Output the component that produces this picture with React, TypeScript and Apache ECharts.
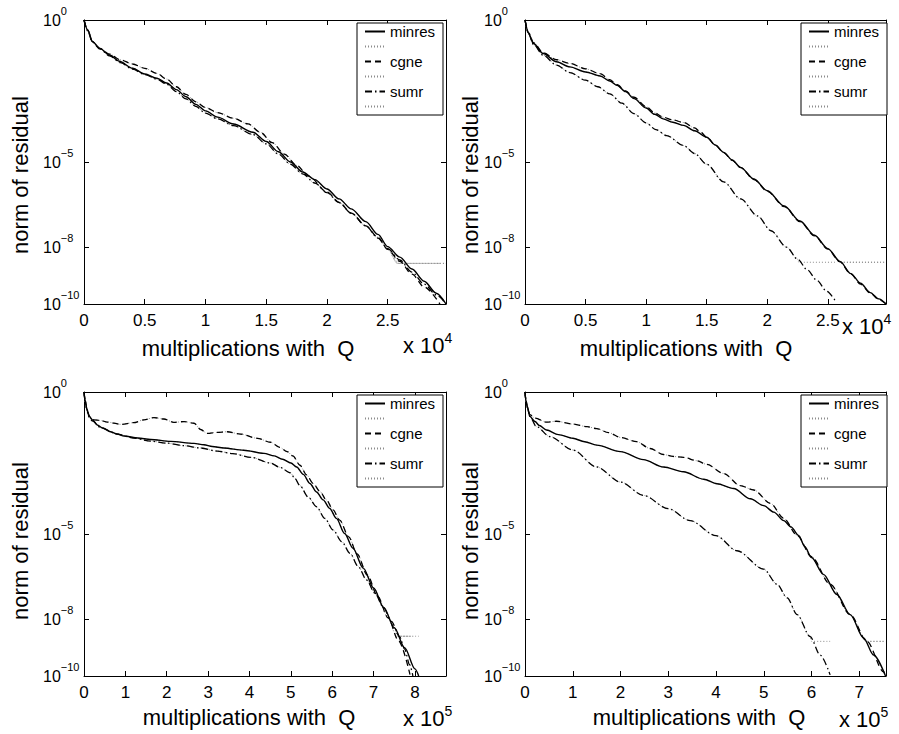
import React, { useEffect, useRef } from 'react';
import * as echarts from 'echarts';

const FONT = '"Liberation Sans", Arial, Helvetica, sans-serif';

// Curves: [multiplications (axis units), log10(norm of residual)]
// Panel 1 (x in units of 10^4)
const p1Minres: number[][] = [[0,0],[0.03,-0.35],[0.07,-0.76],[0.13,-1.0],[0.21,-1.23],[0.29,-1.45],[0.4,-1.7],[0.5,-1.9],[0.6,-2.05],[0.68,-2.22],[0.76,-2.45],[0.84,-2.7],[0.92,-2.97],[1.0,-3.2],[1.1,-3.42],[1.23,-3.66],[1.39,-3.95],[1.5,-4.28],[1.6,-4.64],[1.7,-5.0],[1.8,-5.35],[1.9,-5.62],[2.0,-5.95],[2.1,-6.3],[2.2,-6.65],[2.32,-7.1],[2.42,-7.55],[2.5,-7.98],[2.6,-8.35],[2.7,-8.77],[2.8,-9.2],[2.9,-9.62],[2.98,-10]];
const p1Cgne: number[][] = [[0,0],[0.03,-0.35],[0.07,-0.76],[0.13,-1.0],[0.21,-1.2],[0.3,-1.4],[0.4,-1.55],[0.5,-1.7],[0.6,-1.88],[0.68,-2.08],[0.76,-2.35],[0.84,-2.62],[0.92,-2.88],[1.0,-3.08],[1.1,-3.26],[1.23,-3.46],[1.35,-3.66],[1.45,-3.95],[1.55,-4.32],[1.65,-4.72],[1.75,-5.12],[1.85,-5.5],[2.0,-6.05],[2.1,-6.42],[2.2,-6.8],[2.32,-7.25],[2.42,-7.65],[2.5,-8.08],[2.6,-8.5],[2.7,-8.95],[2.8,-9.4],[2.93,-10]];
const p1Sumr: number[][] = [[0,0],[0.03,-0.38],[0.07,-0.78],[0.13,-1.02],[0.21,-1.26],[0.3,-1.5],[0.4,-1.73],[0.5,-1.92],[0.6,-2.08],[0.68,-2.26],[0.76,-2.52],[0.84,-2.78],[0.92,-3.04],[1.0,-3.28],[1.1,-3.48],[1.23,-3.72],[1.39,-4.03],[1.5,-4.36],[1.6,-4.72],[1.7,-5.08],[1.8,-5.42],[1.9,-5.74],[2.0,-6.08],[2.1,-6.43],[2.2,-6.8],[2.32,-7.25],[2.42,-7.68],[2.5,-8.05],[2.6,-8.45],[2.7,-8.88],[2.8,-9.3],[2.9,-9.68],[2.98,-10]];
const p1Floor = -8.57;
const p1FloorStart = [2.59, 2.58, 2.58]; // minres, cgne, sumr

// Panel 2 (x in units of 10^4)
const p2Minres: number[][] = [[0,0],[0.03,-0.47],[0.07,-0.83],[0.15,-1.18],[0.26,-1.47],[0.37,-1.65],[0.5,-1.83],[0.62,-1.97],[0.7,-2.15],[0.76,-2.3],[0.83,-2.52],[0.9,-2.77],[1.0,-3.1],[1.07,-3.32],[1.14,-3.48],[1.22,-3.6],[1.31,-3.71],[1.4,-3.9],[1.5,-4.13],[1.57,-4.4],[1.64,-4.66],[1.71,-4.93],[1.78,-5.19],[1.89,-5.6],[2.0,-6.01],[2.14,-6.55],[2.27,-7.08],[2.39,-7.58],[2.5,-8.05],[2.6,-8.5],[2.69,-8.93],[2.77,-9.27],[2.85,-9.6],[2.92,-9.82],[2.98,-10]];
const p2Cgne: number[][] = [[0,0],[0.03,-0.45],[0.07,-0.8],[0.15,-1.15],[0.26,-1.4],[0.37,-1.53],[0.5,-1.72],[0.62,-1.89],[0.7,-2.1],[0.76,-2.28],[0.83,-2.5],[0.9,-2.72],[1.0,-3.05],[1.07,-3.27],[1.14,-3.42],[1.22,-3.52],[1.31,-3.61],[1.4,-3.8],[1.45,-3.95],[1.5,-4.12],[1.57,-4.4],[1.64,-4.67],[1.71,-4.94],[1.78,-5.2],[1.89,-5.62],[2.0,-6.03],[2.14,-6.57],[2.27,-7.1],[2.39,-7.6],[2.5,-8.07],[2.6,-8.52],[2.69,-8.95],[2.77,-9.3],[2.85,-9.62],[2.92,-9.84],[2.98,-10]];
const p2Sumr: number[][] = [[0,0],[0.03,-0.5],[0.07,-0.86],[0.15,-1.24],[0.26,-1.59],[0.37,-1.85],[0.5,-2.12],[0.6,-2.35],[0.7,-2.6],[0.8,-2.93],[0.9,-3.3],[1.0,-3.62],[1.08,-3.86],[1.17,-4.07],[1.31,-4.42],[1.4,-4.7],[1.5,-5.08],[1.64,-5.7],[1.78,-6.3],[1.92,-6.9],[2.03,-7.42],[2.16,-8.0],[2.25,-8.42],[2.33,-8.8],[2.41,-9.17],[2.49,-9.55],[2.57,-9.95]];
const p2Floor = -8.53;
const p2FloorStart = [2.61, 2.61, 2.26];

// Panel 3 (x in units of 10^5)
const p3Minres: number[][] = [[0,0],[0.03,-0.3],[0.07,-0.6],[0.12,-0.85],[0.22,-1.0],[0.32,-1.16],[0.45,-1.27],[0.64,-1.4],[0.8,-1.48],[0.97,-1.55],[1.3,-1.62],[1.61,-1.67],[2.09,-1.74],[2.66,-1.81],[2.9,-1.86],[3.1,-1.92],[3.38,-1.97],[3.86,-2.05],[4.35,-2.16],[4.6,-2.25],[4.8,-2.37],[5.0,-2.5],[5.14,-2.64],[5.3,-2.9],[5.46,-3.22],[5.62,-3.52],[5.78,-3.8],[5.94,-4.1],[6.1,-4.45],[6.3,-4.98],[6.5,-5.5],[6.75,-6.2],[7.0,-6.9],[7.25,-7.6],[7.5,-8.3],[7.75,-9.0],[8.0,-9.75],[8.09,-10]];
const p3Cgne: number[][] = [[0,0],[0.03,-0.35],[0.08,-0.7],[0.16,-0.92],[0.24,-0.98],[0.4,-1.0],[0.56,-1.06],[0.89,-1.14],[1.2,-1.08],[1.45,-0.98],[1.69,-0.9],[1.93,-0.95],[2.17,-1.07],[2.42,-1.04],[2.66,-1.1],[2.82,-1.32],[2.98,-1.46],[3.22,-1.42],[3.46,-1.4],[3.78,-1.48],[4.19,-1.63],[4.51,-1.77],[4.73,-1.95],[4.91,-2.1],[5.05,-2.25],[5.22,-2.58],[5.38,-2.92],[5.54,-3.22],[5.7,-3.5],[5.86,-3.8],[6.02,-4.15],[6.18,-4.51],[6.4,-5.1],[6.6,-5.7],[6.85,-6.45],[7.1,-7.2],[7.35,-7.95],[7.6,-8.75],[7.88,-9.95]];
const p3Sumr: number[][] = [[0,0],[0.03,-0.32],[0.07,-0.62],[0.12,-0.88],[0.2,-1.02],[0.4,-1.25],[0.8,-1.48],[1.2,-1.62],[1.61,-1.73],[2.0,-1.8],[2.42,-1.89],[2.8,-1.97],[3.22,-2.08],[3.6,-2.17],[4.03,-2.3],[4.51,-2.5],[4.73,-2.65],[4.99,-2.85],[5.1,-3.05],[5.22,-3.3],[5.42,-3.7],[5.62,-4.04],[5.82,-4.45],[6.02,-4.86],[6.23,-5.27],[6.43,-5.68],[6.63,-6.15],[6.83,-6.62],[7.03,-7.08],[7.23,-7.56],[7.43,-8.08],[7.63,-8.62],[7.75,-9.05],[7.87,-9.6],[7.95,-10]];
const p3Floor = -8.6;
const p3FloorStart = [7.58, 7.55, 7.6];

// Panel 4 (x in units of 10^5)
const p4Minres: number[][] = [[0,0],[0.02,-0.3],[0.05,-0.51],[0.1,-0.86],[0.21,-1.04],[0.3,-1.18],[0.45,-1.34],[0.7,-1.5],[1.0,-1.63],[1.25,-1.75],[1.5,-1.87],[2.0,-2.1],[2.48,-2.38],[2.9,-2.64],[3.32,-2.81],[3.74,-3.07],[4.02,-3.23],[4.37,-3.4],[4.72,-3.76],[5.0,-4.0],[5.21,-4.23],[5.42,-4.53],[5.57,-4.75],[5.73,-5.05],[5.86,-5.45],[6.0,-5.83],[6.25,-6.42],[6.53,-7.13],[6.81,-7.84],[7.09,-8.66],[7.3,-9.26],[7.55,-10]];
const p4Cgne: number[][] = [[0,0],[0.02,-0.3],[0.05,-0.55],[0.1,-0.8],[0.21,-0.92],[0.45,-1.06],[0.66,-1.03],[1.0,-1.13],[1.3,-1.22],[1.5,-1.29],[1.75,-1.43],[2.0,-1.6],[2.34,-1.75],[2.62,-1.99],[2.9,-2.2],[3.1,-2.27],[3.32,-2.3],[3.6,-2.42],[3.81,-2.55],[4.16,-2.87],[4.51,-3.3],[4.79,-3.45],[5.14,-3.92],[5.42,-4.45],[5.7,-5.05],[6.0,-5.8],[6.39,-6.77],[6.81,-7.84],[7.16,-8.78],[7.51,-9.85],[7.55,-10]];
const p4Sumr: number[][] = [[0,0],[0.02,-0.3],[0.05,-0.55],[0.1,-0.86],[0.24,-1.22],[0.52,-1.57],[1.0,-2.04],[1.5,-2.64],[2.0,-3.17],[2.48,-3.64],[3.0,-4.11],[3.46,-4.53],[4.0,-5.06],[4.44,-5.59],[5.0,-6.24],[5.28,-6.77],[5.49,-7.25],[5.7,-7.84],[5.97,-8.61],[6.18,-9.26],[6.39,-9.96]];
const p4Floor = -8.78;
const p4FloorStart = [7.13, 7.16, 6.0];

const methodNames = ['minres', 'cgne', 'sumr'];
const dottedNames = [' ', '  ', '   '];
const legendOrder = ['minres', ' ', 'cgne', '  ', 'sumr', '   '];
const yTickValues = [1, 1e-5, 1e-8, 1e-10];
const xMaxes = [2.98, 2.98, 8.75, 7.56];
const xIntervals = [0.5, 0.5, 1, 1];
const xExponents = ['4', '4', '5', '5'];
const xTitle = 'multiplications with  Q';
const yTitle = 'norm of residual';

const panelCurves = [
  [p1Minres, p1Cgne, p1Sumr],
  [p2Minres, p2Cgne, p2Sumr],
  [p3Minres, p3Cgne, p3Sumr],
  [p4Minres, p4Cgne, p4Sumr],
];
const panelFloors = [p1Floor, p2Floor, p3Floor, p4Floor];
const panelFloorStarts = [p1FloorStart, p2FloorStart, p3FloorStart, p4FloorStart];

// Layout (pixels)
const layout = [
  { grid: { left: 84, top: 20, width: 362, height: 284 }, legend: { left: 357, top: 23 }, ylab: [20, 175], xlab: [248, 348], mult: [403, 345] },
  { grid: { left: 525, top: 20, width: 361, height: 284 }, legend: { left: 801, top: 23 }, ylab: [470, 175], xlab: [686, 348], mult: [842, 326] },
  { grid: { left: 84, top: 392, width: 362, height: 284 }, legend: { left: 357, top: 395 }, ylab: [20, 541], xlab: [249, 717], mult: [403, 718] },
  { grid: { left: 525, top: 392, width: 361, height: 284 }, legend: { left: 801, top: 395 }, ylab: [470, 541], xlab: [699, 717], mult: [839, 719] },
];

const lineStyles = [
  { type: 'solid' as any, width: 1.4 },
  { type: [6, 4], width: 1.3 },
  { type: [7, 3, 1.5, 3], width: 1.3 },
];

const toData = (pts: number[][]) => pts.map(([x, lg]) => [x, Math.pow(10, lg)]);
const dotted = (pts: number[][], floor: number, start: number) => {
  const head = pts.filter(([x]) => x < start);
  const end = pts[pts.length - 1][0];
  return [...head, [start, floor], [end, floor]];
};

const yFmt = (v: number) => {
  const e = Math.round(Math.log10(v));
  return `{b|10}{s|${e === 0 ? '0' : '\u2212' + -e}}`;
};
const xFmt = (interval: number) => (v: number) => {
  const k = v / interval;
  return Math.abs(k - Math.round(k)) < 1e-6 ? String(Number(v.toFixed(2))) : '';
};

function buildOption() {
  const grid: any[] = [];
  const xAxis: any[] = [];
  const yAxis: any[] = [];
  const series: any[] = [];
  const legend: any[] = [];
  const graphic: any[] = [];

  const axisLine = { show: true, onZero: false, lineStyle: { color: '#000', width: 1 } };
  const tick = { show: true, inside: true, length: 5, lineStyle: { color: '#000', width: 1 } };

  layout.forEach((L, i) => {
    grid.push({ ...L.grid, containLabel: false, outerBoundsMode: 'none' });
    const xCommon = {
      type: 'value', gridIndex: i, min: 0, max: xMaxes[i], interval: xIntervals[i],
      axisLine, axisTick: tick, splitLine: { show: false },
    };
    xAxis.push({
      ...xCommon, position: 'bottom',
      axisLabel: { show: true, formatter: xFmt(xIntervals[i]), fontFamily: FONT, fontSize: 17, color: '#000', margin: 8, showMaxLabel: true },
    });
    xAxis.push({ ...xCommon, position: 'top', axisLabel: { show: false } });
    const yCommon = {
      type: 'log', logBase: 10, gridIndex: i, min: 1e-10, max: 1,
      axisLine, splitLine: { show: false }, minorTick: { show: false }, minorSplitLine: { show: false },
      axisTick: { ...tick, customValues: yTickValues },
    };
    yAxis.push({
      ...yCommon, position: 'left',
      axisLabel: {
        show: true, customValues: yTickValues, formatter: yFmt, align: 'left', margin: 41, color: '#000',
        rich: {
          b: { fontFamily: FONT, fontSize: 16, lineHeight: 16, color: '#000' },
          s: { fontFamily: FONT, fontSize: 11, lineHeight: 11, color: '#000', padding: [0, 0, 19, 0] },
        },
      },
    });
    yAxis.push({ ...yCommon, position: 'right', axisLabel: { show: false } });

    const curves = panelCurves[i];
    // dotted gray curves underneath
    curves.forEach((pts, m) => {
      series.push({
        type: 'line', name: dottedNames[m], xAxisIndex: 2 * i, yAxisIndex: 2 * i,
        data: toData(dotted(pts, panelFloors[i], panelFloorStarts[i][m])),
        symbol: 'none', showSymbol: false, silent: true, z: 1,
        smooth: 0.3, smoothMonotone: 'x',
        lineStyle: { color: '#8c8c8c', width: 1, type: [1, 2] }, itemStyle: { color: '#8c8c8c' },
      });
    });
    curves.forEach((pts, m) => {
      series.push({
        type: 'line', name: methodNames[m], xAxisIndex: 2 * i, yAxisIndex: 2 * i,
        data: toData(pts), symbol: 'none', showSymbol: false, silent: true, z: 2 + m,
        smooth: 0.3, smoothMonotone: 'x',
        lineStyle: { color: '#000', ...lineStyles[m] }, itemStyle: { color: '#000' },
      });
    });

    legend.push({
      data: legendOrder, orient: 'vertical', left: L.legend.left, top: L.legend.top,
      itemWidth: 20, itemHeight: 10, itemGap: 0, padding: [1, 8, 1, 7],
      backgroundColor: '#fff', borderColor: '#000', borderWidth: 1, borderRadius: 0,
      selectedMode: false, z: 10,
      itemStyle: { opacity: 0, color: 'rgba(0,0,0,0)', borderWidth: 0 },
      textStyle: { fontFamily: FONT, fontSize: 15, lineHeight: 13, color: '#000' },
    });

    graphic.push({
      type: 'text', x: L.ylab[0], y: L.ylab[1], rotation: Math.PI / 2, silent: true,
      style: { text: yTitle, fontFamily: FONT, fontSize: 22, fill: '#000', align: 'center', verticalAlign: 'middle' },
    });
    graphic.push({
      type: 'text', x: L.xlab[0], y: L.xlab[1], silent: true,
      style: { text: xTitle, fontFamily: FONT, fontSize: 22, fill: '#000', align: 'center', verticalAlign: 'middle' },
    });
    graphic.push({
      type: 'text', x: L.mult[0], y: L.mult[1], silent: true,
      style: {
        text: `{b|x 10}{s|${xExponents[i]}}`, align: 'left', verticalAlign: 'middle', fill: '#000',
        rich: {
          b: { fontFamily: FONT, fontSize: 22, lineHeight: 22, fill: '#000' },
          s: { fontFamily: FONT, fontSize: 14, lineHeight: 14, fill: '#000', padding: [0, 0, 14, 0] },
        },
      },
    });
  });

  return { animation: false, backgroundColor: '#fff', grid, xAxis, yAxis, series, legend, graphic };
}

export default function App() {
  const ref = useRef<HTMLDivElement>(null);
  useEffect(() => {
    if (!ref.current) return;
    const chart = echarts.init(ref.current, undefined, { renderer: 'svg' });
    chart.setOption(buildOption() as any);
    return () => chart.dispose();
  }, []);
  return (
    <div
      ref={ref}
      style={{ position: 'fixed', left: 0, top: 0, width: 899, height: 734, background: '#fff' }}
    />
  );
}
